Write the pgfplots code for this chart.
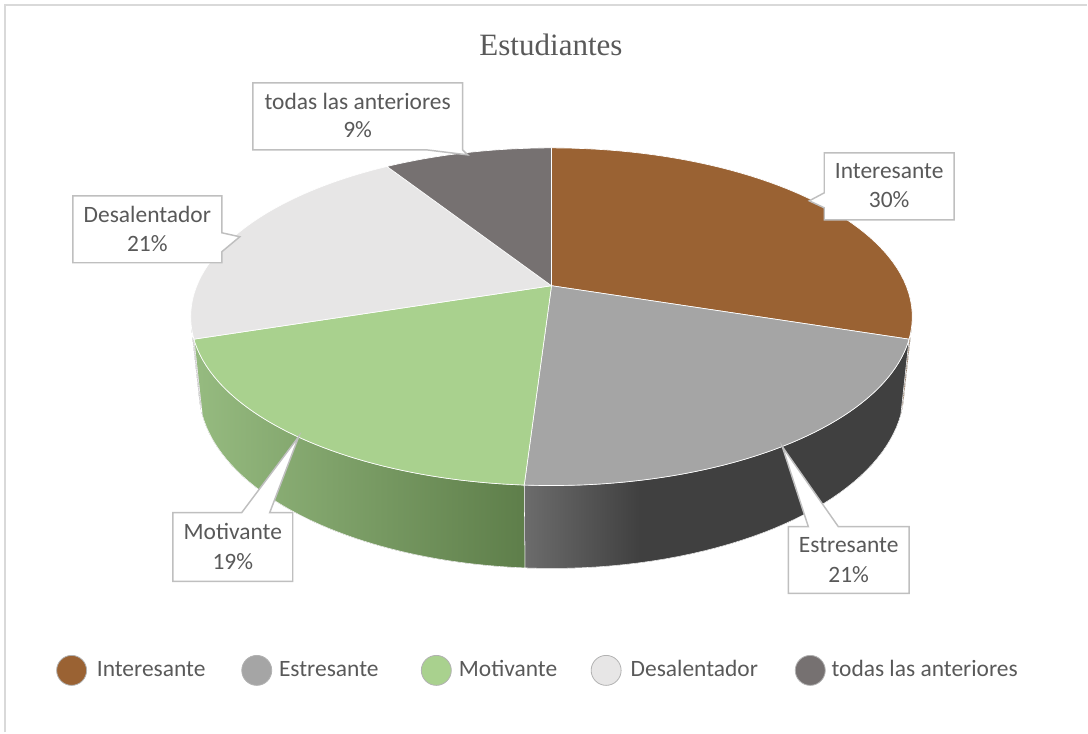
\documentclass[border=0pt]{standalone}
\usepackage{pgfplots}
\pgfplotsset{compat=1.18}
\usepackage{pgfplotstable}
\usepackage{fontspec}
\setmainfont{Carlito}
\newfontfamily\titlefont{Liberation Serif}

\definecolor{txt}{HTML}{595959}
\definecolor{frame}{HTML}{D9D9D9}
\definecolor{boxline}{HTML}{BFBFBF}
% top faces
\definecolor{c0}{HTML}{9A6233}
\definecolor{c1}{HTML}{A5A5A5}
\definecolor{c2}{HTML}{A9D18E}
\definecolor{c3}{HTML}{E7E6E6}
\definecolor{c4}{HTML}{767171}
% side faces (left / right of the shading)
\definecolor{sl0}{HTML}{6E4623}\definecolor{sr0}{HTML}{5E3B1D}
\definecolor{sl1}{HTML}{6C6C6C}\definecolor{sr1}{HTML}{404040}
\definecolor{sl2}{HTML}{96BB80}\definecolor{sr2}{HTML}{5E7E4A}
\definecolor{sl3}{HTML}{B9B8B8}\definecolor{sr3}{HTML}{A8A7A7}
\definecolor{sl4}{HTML}{5A5656}\definecolor{sr4}{HTML}{4A4646}

\pgfdeclarehorizontalshading{side0}{100bp}{color(0bp)=(sl0); color(25bp)=(sl0); color(75bp)=(sr0); color(100bp)=(sr0)}
\pgfdeclarehorizontalshading{side1}{100bp}{color(0bp)=(sl1); color(25bp)=(sl1); color(40bp)=(sr1); color(100bp)=(sr1)}
\pgfdeclarehorizontalshading{side2}{100bp}{color(0bp)=(sl2); color(25bp)=(sl2); color(75bp)=(sr2); color(100bp)=(sr2)}
\pgfdeclarehorizontalshading{side3}{100bp}{color(0bp)=(sl3); color(25bp)=(sl3); color(75bp)=(sr3); color(100bp)=(sr3)}
\pgfdeclarehorizontalshading{side4}{100bp}{color(0bp)=(sl4); color(25bp)=(sl4); color(75bp)=(sr4); color(100bp)=(sr4)}

% percentages, in order from 12 o'clock, clockwise
\pgfplotstableread{
value
30
21
19
21
9
}\piedata

% perspective view of a disc: angle a (clockwise from the back), height h
\tikzset{declare function={
  psc(\a,\h)=4.84/(4.84-(0.46*\h-0.888*cos(\a)));
  pu(\a,\h)=552+355*sin(\a)*psc(\a,\h);
  pv(\a,\h)=286-355*(0.888*\h+0.46*cos(\a))*psc(\a,\h);
}}

\newcommand\legentry[4]{%
  \fill[#3, draw=black!30, line width=0.6pt] (axis cs:#1,671) circle[radius=11.25pt];
  \node[anchor=base west, text=txt, font=\fontsize{17.6}{21}\selectfont, inner sep=0pt] at (axis cs:#2,677) {#4};
}

\begin{document}
\begin{tikzpicture}
\pgfplotstablegetrowsof{\piedata}%
\pgfmathtruncatemacro\nrows{\pgfplotsretval-1}%
\gdef\cum{0}%
\foreach \i in {0,...,\nrows}{%
  \pgfplotstablegetelem{\i}{value}\of\piedata
  \let\val\pgfplotsretval
  \pgfmathsetmacro\sa{3.6*\cum}%
  \pgfmathsetmacro\sb{3.6*(\cum+\val)}%
  \pgfmathsetmacro\ss{max(\sa,103.4)}%
  \pgfmathsetmacro\se{min(\sb,256.6)}%
  \expandafter\xdef\csname sa\i\endcsname{\sa}%
  \expandafter\xdef\csname sb\i\endcsname{\sb}%
  \expandafter\xdef\csname ss\i\endcsname{\ss}%
  \expandafter\xdef\csname se\i\endcsname{\se}%
  \pgfmathsetmacro\newcum{\cum+\val}%
  \xdef\cum{\newcum}%
}%
\begin{axis}[
    width=816pt, height=549.75pt,
    scale only axis,
    xmin=0, xmax=1088, ymin=0, ymax=733,
    y dir=reverse,
    axis lines=none,
    clip=false,
  ]
  % whole chart area
  \path (axis cs:0,0) rectangle (axis cs:1088,733);
  % frame
  \draw[frame, line width=1.5pt] (axis cs:5,733) -- (axis cs:5,5) -- (axis cs:1088,5);

  % sides
  \pgfplotsinvokeforeach{0,...,4}{%
    \ifdim\csname ss#1\endcsname pt<\csname se#1\endcsname pt
      \fill[shading=side#1, draw=white, line width=0.4pt]
        plot[domain=\csname ss#1\endcsname:\csname se#1\endcsname, samples=40] ({pu(\x,0)},{pv(\x,0)})
        -- plot[domain=\csname se#1\endcsname:\csname ss#1\endcsname, samples=40] ({pu(\x,-0.235)},{pv(\x,-0.235)})
        -- cycle;
    \fi
  }
  % top faces
  \pgfplotsinvokeforeach{0,...,4}{%
    \fill[c#1, draw=white, line width=0.5pt] (axis cs:552,286)
      -- plot[domain=\csname sa#1\endcsname:\csname sb#1\endcsname, samples=50] ({pu(\x,0)},{pv(\x,0)})
      -- cycle;
  }

  % title
  \node[anchor=base, text=txt, font=\titlefont\fontsize{23.3}{28}\selectfont] at (axis cs:551.5,55.7) {Estudiantes};

  % callouts
  \begin{scope}[every path/.style={fill=white, draw=boxline, line width=1.1pt, line join=miter}]
  \path (axis cs:825,153) -- (axis cs:955,153) -- (axis cs:955,220) -- (axis cs:825,220)
     -- (axis cs:825,208) -- (axis cs:810,201) -- (axis cs:825,193) -- cycle;
  \path (axis cs:789,527) -- (axis cs:809,527) -- (axis cs:783,447) -- (axis cs:839,527)
     -- (axis cs:910,527) -- (axis cs:910,594) -- (axis cs:789,594) -- cycle;
  \path (axis cs:173,513) -- (axis cs:242,513) -- (axis cs:299,437) -- (axis cs:270,513)
     -- (axis cs:293,513) -- (axis cs:293,582) -- (axis cs:173,582) -- cycle;
  \path (axis cs:73,196) -- (axis cs:222,196) -- (axis cs:222,233) -- (axis cs:240,237)
     -- (axis cs:222,252) -- (axis cs:222,263) -- (axis cs:73,263) -- cycle;
  \path (axis cs:253,83) -- (axis cs:463,83) -- (axis cs:463,150) -- (axis cs:468,155)
     -- (axis cs:427,150) -- (axis cs:253,150) -- cycle;
  \end{scope}

  \begin{scope}[every node/.style={anchor=base, text=txt, font=\fontsize{17.6}{21}\selectfont, inner sep=0pt}]
  \node at (axis cs:890,179) {Interesante};
  \node at (axis cs:890,208) {30\%};
  \node at (axis cs:849.5,553) {Estresante};
  \node at (axis cs:849.5,583) {21\%};
  \node at (axis cs:233,540) {Motivante};
  \node at (axis cs:233,570) {19\%};
  \node at (axis cs:147.5,223) {Desalentador};
  \node at (axis cs:147.5,252) {21\%};
  \node at (axis cs:358,110) {todas las anteriores};
  \node at (axis cs:358,138) {9\%};
  \end{scope}

  % legend
  \legentry{71.7}{96.7}{c0}{Interesante}
  \legentry{257}{279}{c1}{Estresante}
  \legentry{436.7}{459}{c2}{Motivante}
  \legentry{606.7}{631}{c3}{Desalentador}
  \legentry{811}{832}{c4}{todas las anteriores}
\end{axis}
\end{tikzpicture}
\end{document}
